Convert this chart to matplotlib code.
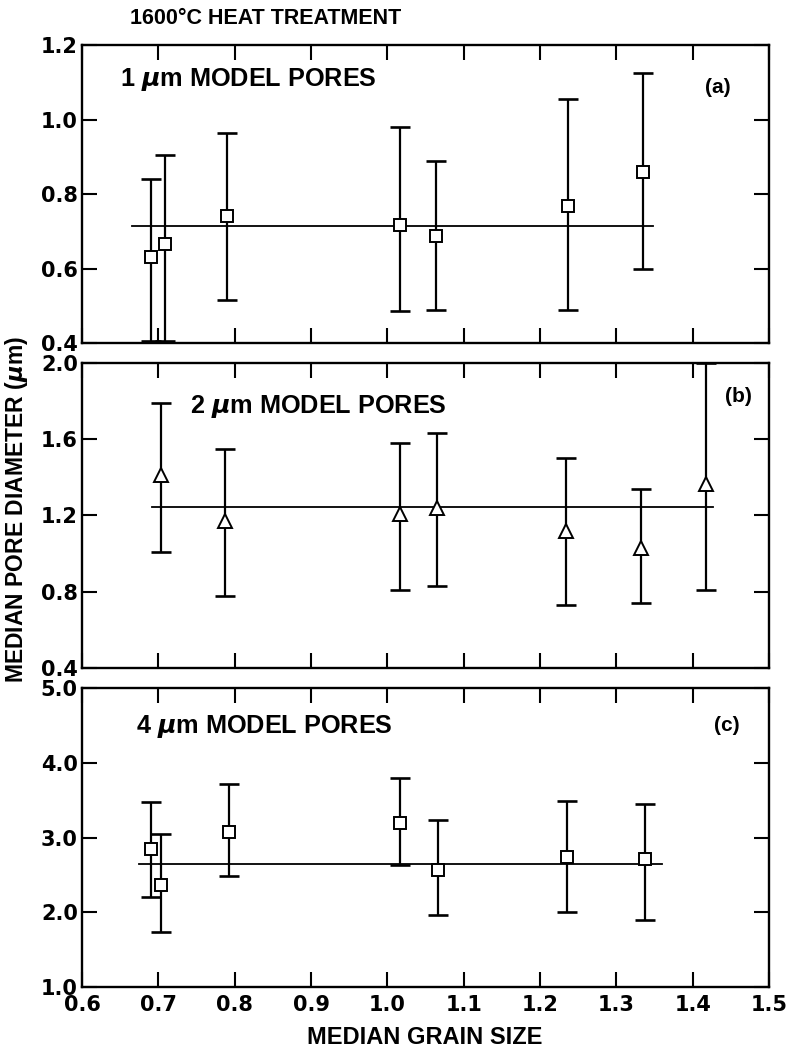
import matplotlib
matplotlib.use("Agg")
import matplotlib.pyplot as plt
from matplotlib.ticker import MultipleLocator, FormatStrFormatter

plt.rcParams['font.family'] = ['Liberation Sans', 'DejaVu Sans']
plt.rcParams['font.weight'] = 'bold'

# panel (a): 1 um model pores
grain_a = [0.691, 0.709, 0.790, 1.016, 1.064, 1.236, 1.335]
pore_a = [0.630, 0.665, 0.740, 0.718, 0.688, 0.768, 0.860]
low_a = [0.405, 0.405, 0.515, 0.485, 0.490, 0.490, 0.600]
high_a = [0.840, 0.905, 0.965, 0.980, 0.888, 1.055, 1.125]
mean_a = 0.714

# panel (b): 2 um model pores
grain_b = [0.704, 0.787, 1.017, 1.065, 1.234, 1.332, 1.417]
pore_b = [1.41, 1.17, 1.21, 1.24, 1.12, 1.03, 1.365]
low_b = [1.01, 0.78, 0.81, 0.83, 0.73, 0.74, 0.81]
high_b = [1.79, 1.55, 1.58, 1.63, 1.50, 1.34, 2.00]
mean_b = 1.245

# panel (c): 4 um model pores
grain_c = [0.691, 0.704, 0.793, 1.017, 1.066, 1.235, 1.338]
pore_c = [2.85, 2.37, 3.07, 3.20, 2.57, 2.74, 2.71]
low_c = [2.20, 1.74, 2.49, 2.63, 1.96, 2.01, 1.89]
high_c = [3.47, 3.05, 3.72, 3.80, 3.24, 3.49, 3.45]
mean_c = 2.65

panels = [
    dict(x=grain_a, y=pore_a, lo=low_a, hi=high_a, mean=mean_a, line=(0.666, 1.348),
         marker='s', ylim=(0.4, 1.2), step=0.2,
         text=r'1 $\mu$m MODEL PORES', tpos=(0.055, 0.883), tag='(a)', gpos=(0.926, 0.859),
         rect=[0.1042, 0.673, 0.873, 0.284]),
    dict(x=grain_b, y=pore_b, lo=low_b, hi=high_b, mean=mean_b, line=(0.692, 1.426),
         marker='^', ylim=(0.4, 2.0), step=0.4,
         text=r'2 $\mu$m MODEL PORES', tpos=(0.157, 0.856), tag='(b)', gpos=(0.955, 0.889),
         rect=[0.1042, 0.3632, 0.873, 0.2908]),
    dict(x=grain_c, y=pore_c, lo=low_c, hi=high_c, mean=mean_c, line=(0.675, 1.36),
         marker='s', ylim=(1.0, 5.0), step=1.0,
         text=r'4 $\mu$m MODEL PORES', tpos=(0.079, 0.870), tag='(c)', gpos=(0.939, 0.876),
         rect=[0.1042, 0.0591, 0.873, 0.285]),
]

fig = plt.figure(figsize=(7.87, 10.49), dpi=100)

for i, p in enumerate(panels):
    ax = fig.add_axes(p['rect'])
    ax.plot(p['line'], [p['mean'], p['mean']], color='black', lw=1.3, zorder=2)
    yerr = [[v - l for v, l in zip(p['y'], p['lo'])],
            [h - v for v, h in zip(p['y'], p['hi'])]]
    ax.errorbar(p['x'], p['y'], yerr=yerr, fmt='none', ecolor='black',
                elinewidth=1.6, capsize=7, capthick=1.9, clip_on=False, zorder=3)
    ms = 8 if p['marker'] == 's' else 9.5
    ax.plot(p['x'], p['y'], linestyle='none', marker=p['marker'], ms=ms,
            mfc='white', mec='black', mew=1.4, zorder=4, clip_on=False)

    ax.set_xlim(0.6, 1.5)
    ax.set_ylim(*p['ylim'])
    ax.xaxis.set_major_locator(MultipleLocator(0.1))
    ax.yaxis.set_major_locator(MultipleLocator(p['step']))
    ax.yaxis.set_major_formatter(FormatStrFormatter('%.1f'))
    ax.tick_params(direction='in', length=11, width=1.5, top=True, right=True)
    ax.tick_params(axis='y', pad=3)
    ax.tick_params(axis='x', pad=6)
    for s in ax.spines.values():
        s.set_linewidth(1.7)
    if i < 2:
        ax.tick_params(labelbottom=False)
    else:
        ax.xaxis.set_major_formatter(FormatStrFormatter('%.1f'))
    for lab in ax.get_xticklabels() + ax.get_yticklabels():
        lab.set_fontfamily('DejaVu Sans')
        lab.set_fontweight('bold')
        lab.set_fontsize(15)

    ax.text(p['tpos'][0], p['tpos'][1], p['text'], transform=ax.transAxes,
            fontsize=18.2, fontweight='bold', ha='left', va='center')
    ax.text(p['gpos'][0], p['gpos'][1], p['tag'], transform=ax.transAxes,
            fontsize=15, fontweight='bold', ha='center', va='center')

fig.text(0.165, 1 - 18 / 1049, '1600°C HEAT TREATMENT', fontsize=15.5,
         fontweight='bold', ha='left', va='center')
fig.text(0.021, 1 - 510 / 1049, r'MEDIAN PORE DIAMETER ($\mu$m)', rotation=90,
         fontsize=16.5, fontweight='bold', ha='center', va='center')
fig.text(0.54, 1 - 1037 / 1049, 'MEDIAN GRAIN SIZE', fontsize=17,
         fontweight='bold', ha='center', va='center')

fig.savefig('out.png', dpi=100)
